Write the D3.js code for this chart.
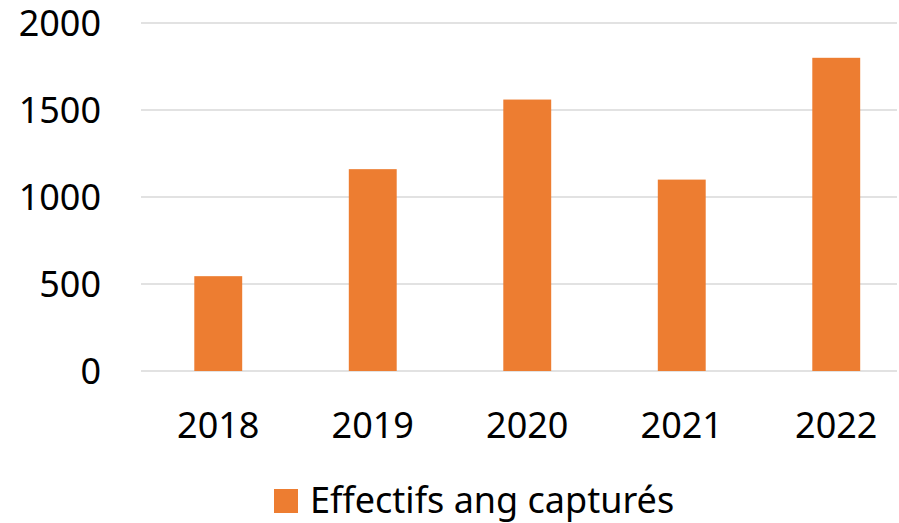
<!DOCTYPE html>
<html lang="fr">
<meta charset="utf-8">
<head>
	<title>Effectifs ang capturés</title>
	<style type="text/css">
		body { margin: 0; background: #fff; }
		.grid line { stroke: #d9d9d9; stroke-width: 1.3px; }
		text { font-family: "Noto Sans", sans-serif; fill: #000; }
	</style>
	<script src="https://cdnjs.cloudflare.com/ajax/libs/d3/7.8.5/d3.min.js"></script>
</head>
<body>
	<div id="chart"></div>
	<script type="text/javascript">
		// data
		var years = ["2018", "2019", "2020", "2021", "2022"];
		var captures = [545, 1160, 1560, 1100, 1800];
		var yTicks = [0, 500, 1000, 1500, 2000];
		var seriesName = "Effectifs ang capturés";

		var width = 899;
		var height = 523;

		var svg = d3.select("#chart")
			.append("svg")
			.attr("width", width)
			.attr("height", height);

		var x = d3.scaleBand()
			.domain(years)
			.range([141, 913.5])
			.paddingInner(0.69)
			.paddingOuter(0.345);

		var y = d3.scaleLinear()
			.domain([0, 2000])
			.range([371, 23]);

		//gridlines
		svg.append("g")
			.attr("class", "grid")
			.selectAll("line")
			.data(yTicks)
			.enter().append("line")
			.attr("x1", 141)
			.attr("x2", 897)
			.attr("y1", function(d) { return y(d); })
			.attr("y2", function(d) { return y(d); });

		//y labels
		svg.append("g")
			.selectAll("text")
			.data(yTicks)
			.enter().append("text")
			.attr("x", 101)
			.attr("y", function(d) { return y(d); })
			.attr("dy", "0.36em")
			.attr("text-anchor", "end")
			.style("font-size", "36px")
			.text(function(d) { return d; });

		//bars
		svg.append("g")
			.selectAll("rect")
			.data(captures)
			.enter().append("rect")
			.attr("x", function(d, i) { return x(years[i]); })
			.attr("width", x.bandwidth())
			.attr("y", function(d) { return y(d); })
			.attr("height", function(d) { return y(0) - y(d); })
			.attr("fill", "#ED7D31");

		//x labels
		svg.append("g")
			.selectAll("text")
			.data(years)
			.enter().append("text")
			.attr("x", function(d) { return x(d) + x.bandwidth() / 2; })
			.attr("y", 438)
			.attr("text-anchor", "middle")
			.style("font-size", "36px")
			.text(function(d) { return d; });

		//legend
		var legend = svg.append("g");
		legend.append("rect")
			.attr("x", 274)
			.attr("y", 489)
			.attr("width", 24)
			.attr("height", 24)
			.attr("fill", "#ED7D31");
		legend.append("text")
			.attr("x", 310)
			.attr("y", 513)
			.style("font-size", "36px")
			.text(seriesName);
	</script>
</body>
</html>
